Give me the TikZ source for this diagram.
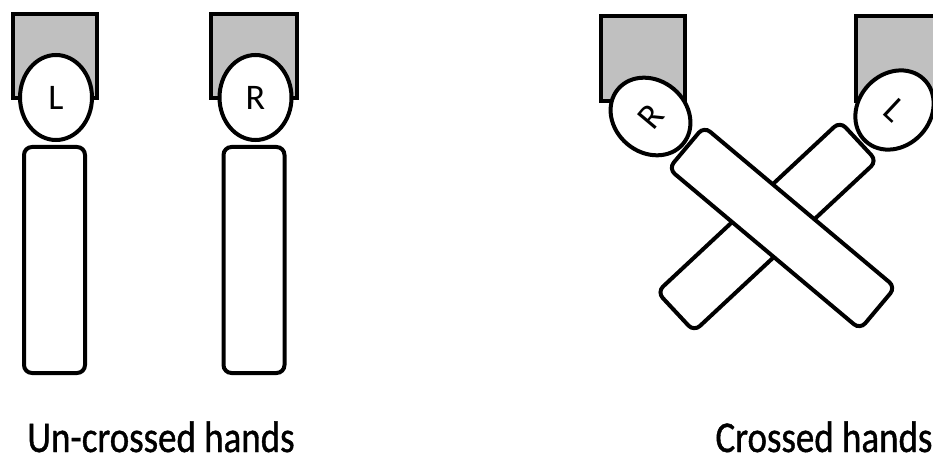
\documentclass[tikz,border=0pt]{standalone}
\usepackage{fontspec}
\setmainfont{Carlito}
\newfontfamily\captionfont{Carlito}[FakeBold=1]
\usetikzlibrary{shapes.geometric}
\definecolor{cuffgray}{RGB}{192,192,192}
\tikzset{
  cuff/.style={draw=black, fill=cuffgray, line width=4.5pt},
  hand/.style={draw=black, fill=white, line width=4pt, ellipse, inner sep=0pt,
               minimum width=72pt, minimum height=85pt, font=\fontsize{36}{38}\selectfont},
  arm/.style={draw=black, fill=white, line width=4pt, rectangle, rounded corners=8pt, inner sep=0pt},
  caption/.style={font=\captionfont\fontsize{44}{48}\selectfont, anchor=base, inner sep=0pt}
}
\newcommand{\narrowtext}[1]{\scalebox{0.84}[1]{#1}}
\begin{document}
\begin{tikzpicture}[x=1pt, y=-1pt]
  \useasboundingbox (0,0) rectangle (933,465);
  \clip (0,0) rectangle (933,465);

  % un-crossed hands
  \draw[cuff] (13,14) rectangle (97,98);
  \draw[cuff] (211,14) rectangle (297,98);
  \node[hand] (lhand) at (56,97.5) {L};
  \node[hand] (rhand) at (255.5,97.5) {R};
  \node[arm, minimum width=61pt, minimum height=226pt] (larm) at (54.5,260) {};
  \node[arm, minimum width=61pt, minimum height=226pt] (rarm) at (254,260) {};

  % crossed hands
  \draw[cuff] (601,16) rectangle (685,101);
  \draw[cuff] (856,16) rectangle (940,101);
  \node[hand, rotate=50] (xrhand) at (650.5,116.5) {R};
  \node[hand, rotate=-43] (xlhand) at (894.5,110) {L};
  \node[arm, rotate=43, minimum width=250pt, minimum height=54pt] (xlarm) at (767,226.5) {};
  \node[arm, rotate=-40, minimum width=250pt, minimum height=55pt] (xrarm) at (782,228) {};

  % captions
  \node[caption] (uncap) at (161,452) {\narrowtext{Un-crossed hands}};
  \node[caption] (crcap) at (824,452) {\narrowtext{Crossed hands}};
\end{tikzpicture}
\end{document}
